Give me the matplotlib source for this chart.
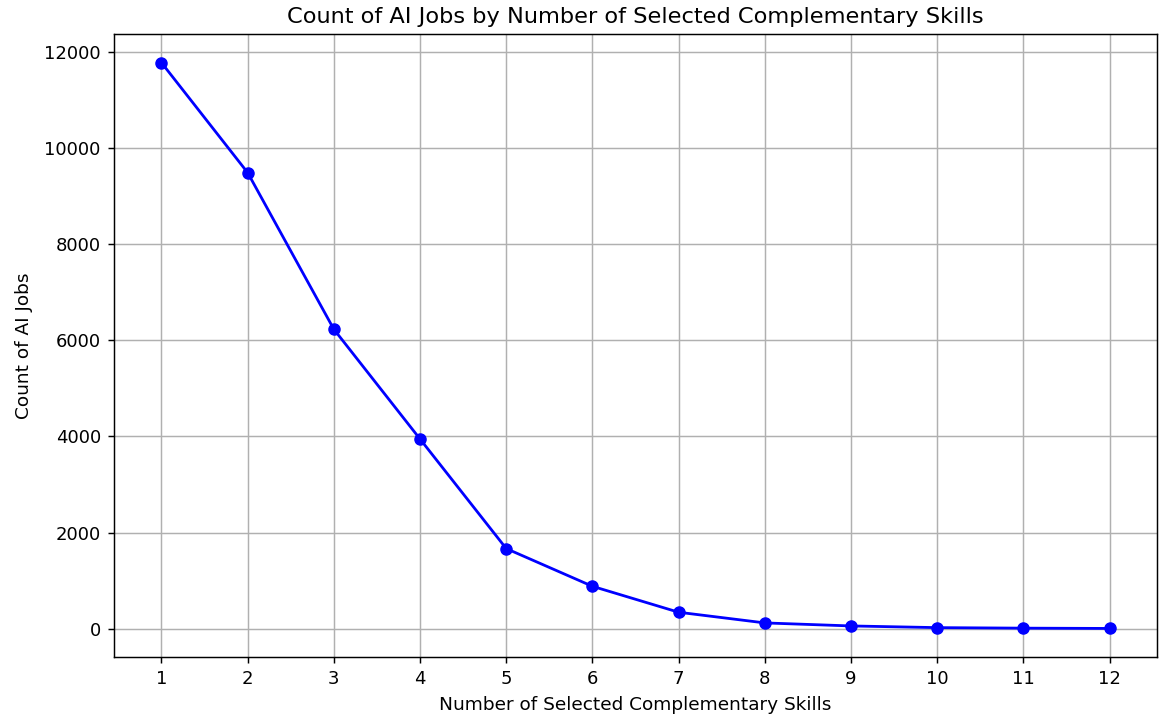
import matplotlib
matplotlib.use("Agg")
import matplotlib.pyplot as plt

num_skills = [1, 2, 3, 4, 5, 6, 7, 8, 9, 10, 11, 12]
job_counts = [11780, 9490, 6230, 3945, 1665, 880, 340, 118, 55, 20, 9, 3]

fig = plt.figure(figsize=(11.65, 7.22), dpi=100)
ax = fig.add_axes([0.0979, 0.0904, 0.8953, 0.862])
ax.plot(num_skills, job_counts, marker='o', color='blue', linestyle='-', markersize=8, linewidth=2)
ax.set_title('Count of AI Jobs by Number of Selected Complementary Skills', fontsize=16.2, pad=8)
ax.set_xlabel('Number of Selected Complementary Skills', fontsize=13.3, labelpad=6)
ax.set_ylabel('Count of AI Jobs', fontsize=13.3, labelpad=8)
ax.set_xticks(num_skills)
ax.tick_params(labelsize=13, length=4.5, width=1.05, pad=5)
for s in ax.spines.values():
    s.set_linewidth(1.05)
ax.grid(True, color='#b0b0b0', linewidth=1.05)
fig.savefig('out.png', dpi=100)
